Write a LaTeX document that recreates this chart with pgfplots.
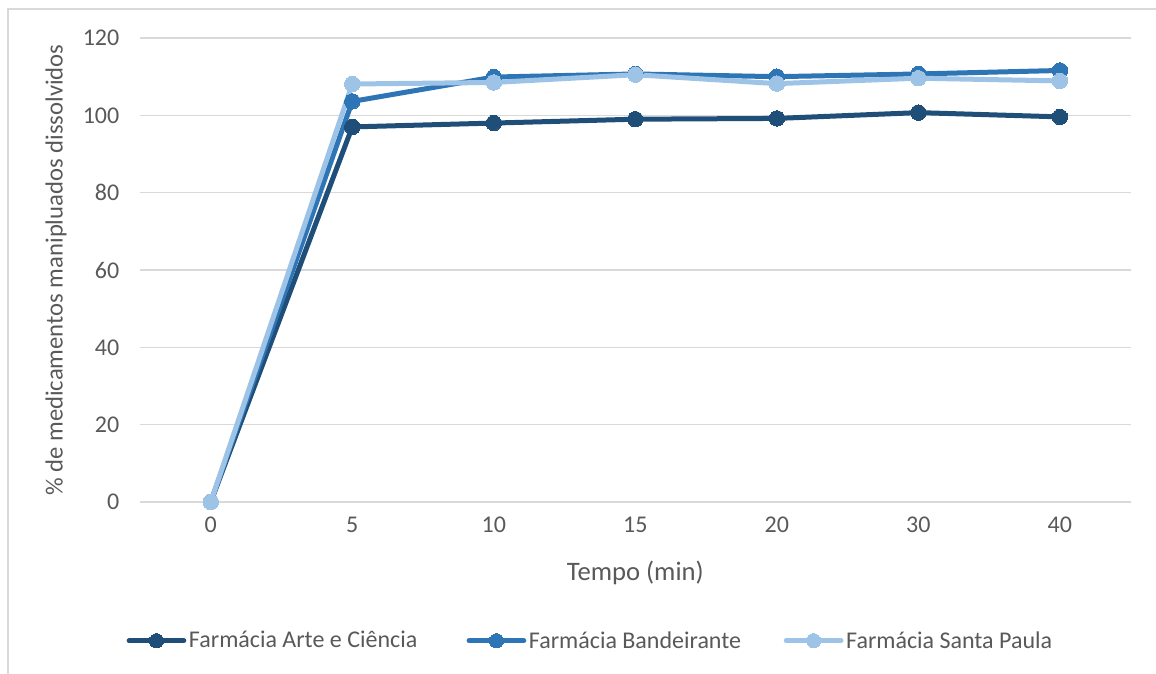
\documentclass[border=0pt]{standalone}
\usepackage{pgfplots}
\pgfplotsset{compat=1.18}
\usepackage{fontspec}
\setmainfont{Carlito}
\definecolor{cA}{HTML}{1F4E79}
\definecolor{cB}{HTML}{2E75B6}
\definecolor{cC}{HTML}{9DC3E6}
\definecolor{gridc}{HTML}{D9D9D9}
\definecolor{txt}{HTML}{595959}
\begin{document}
\begin{tikzpicture}
\begin{axis}[
  at={(0,0)}, anchor=south west,
  scale only axis, width=743pt, height=348pt,
  xmin=-0.5, xmax=6.5, ymin=0, ymax=120,
  xtick={0,1,2,3,4,5,6},
  xticklabels={0,5,10,15,20,30,40},
  ytick={0,20,40,60,80,100,120},
  axis line style={draw=none},
  major tick length=0pt,
  ymajorgrids, grid style={gridc, line width=0.9pt},
  tick label style={font=\fontsize{18}{20}\selectfont, text=txt},
  /pgf/number format/assume math mode=true,
  yticklabel style={xshift=-12pt},
  xticklabel style={yshift=-8pt},
  xlabel={Tempo (min)},
  ylabel={\% de medicamentos manipluados dissolvidos},
  xlabel style={at={(axis description cs:0.5,-0.152)}, anchor=center, font=\fontsize{20}{22}\selectfont, text=txt},
  ylabel style={at={(axis description cs:-0.0847,0.5)}, anchor=center, font=\fontsize{18.5}{21}\selectfont, text=txt},
  clip=false,
  every axis plot/.append style={line width=3.75pt, mark=*, mark size=5.8pt, line join=round, line cap=round},
  legend columns=3,
  legend style={draw=none, at={(axis description cs:0.455,-0.299)}, anchor=center,
    font=\fontsize{18}{20}\selectfont, text=txt,
    /tikz/column 2/.style={column sep=35pt},
    /tikz/column 4/.style={column sep=30pt}},
  legend cell align=left,
  legend image code/.code={\draw[#1,mark repeat=2,mark phase=2,mark size=5.3pt] plot coordinates {(0pt,0pt) (20.5pt,0pt) (41pt,0pt)};},
]
\addplot[color=cA, mark options={fill=cA, draw=cA, line width=0pt}] coordinates {(0,0) (1,97.0) (2,98.0) (3,99.0) (4,99.2) (5,100.7) (6,99.6)};
\addlegendentry{Farmácia Arte e Ciência}
\addplot[color=cB, mark options={fill=cB, draw=cB, line width=0pt}] coordinates {(0,0) (1,103.6) (2,109.9) (3,110.7) (4,110.0) (5,110.7) (6,111.6)};
\addlegendentry{Farmácia Bandeirante}
\addplot[color=cC, mark options={fill=cC, draw=cC, line width=0pt}] coordinates {(0,0) (1,108.1) (2,108.5) (3,110.5) (4,108.2) (5,109.6) (6,108.9)};
\addlegendentry{Farmácia Santa Paula}
\end{axis}
\pgfresetboundingbox
\useasboundingbox (-105pt,-129pt) rectangle (762pt,376.5pt);
\draw[gridc, line width=1.2pt] (-99pt,-130pt) -- (-99pt,369.75pt) -- (763pt,369.75pt);
\end{tikzpicture}
\end{document}
